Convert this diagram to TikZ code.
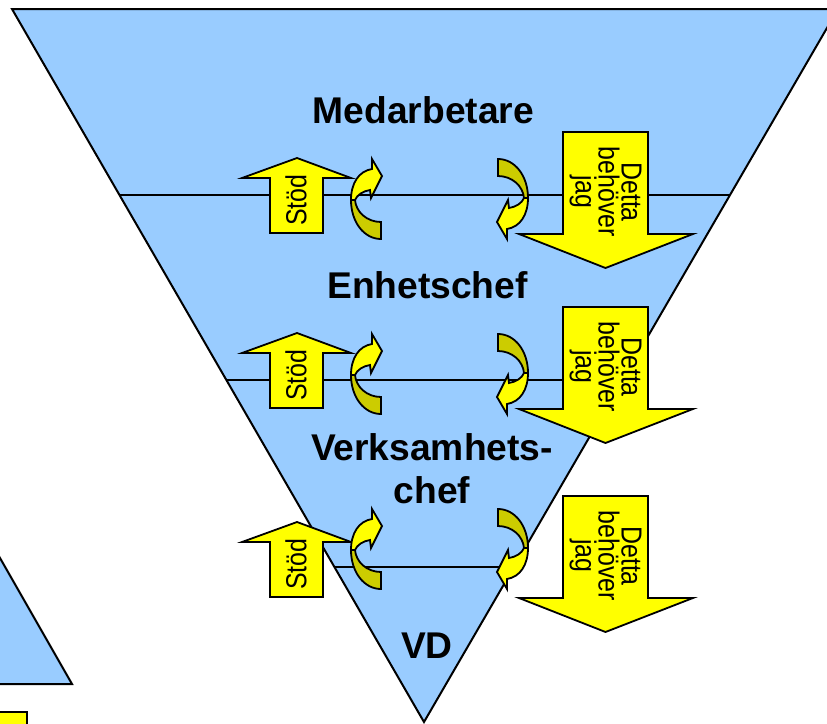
\documentclass[tikz,border=0pt]{standalone}
\usepackage{fontspec}
\setmainfont{Liberation Sans}
\newfontfamily\narrowsans[FakeStretch=0.86]{Liberation Sans}
\usepackage{tikz}
\definecolor{levelblue}{HTML}{99CCFF}
\definecolor{arrowyellow}{HTML}{FFFF00}
\definecolor{backyellow}{HTML}{CCCC00}

\begin{document}
\begin{tikzpicture}
  [
    x=0.5pt, y=-0.5pt,
    level/.style={
       anchor=base,
       inner sep=0pt,
       font=\bfseries\fontsize{18.6}{21.5}\selectfont
    },
    tri/.style={
       fill=levelblue,
       draw=black,
       line width=1pt
    },
    split/.style={
       draw=black,
       line width=0.8pt
    },
    arrowbody/.style={
       fill=arrowyellow,
       draw=black,
       line width=0.9pt
    },
    arrowback/.style={
       arrowbody,
       fill=backyellow
    },
    stod/.pic={
       \draw [arrowbody] (0,0) -- (54,20) -- (26,20) -- (26,75) -- (-27,75)
             -- (-27,20) -- (-55,20) -- cycle;
       \node (-txt) at (-1,42) [rotate=90, inner sep=0pt,
             font=\narrowsans\fontsize{14.5}{14.5}\selectfont] {Stöd};
    },
    detta/.pic={
       \draw [arrowbody] (-42.5,0) -- (42.5,0) -- (42.5,102) -- (87.5,102)
             -- (0,136) -- (-86.5,102) -- (-42.5,102) -- cycle;
       \node (-txt) at (0,60) [rotate=-90, inner sep=0pt, align=center,
             font=\narrowsans\fontsize{14.5}{11.5}\selectfont] {Detta\\behöver\\jag};
    },
    turn/.pic={
       \draw [arrowback] (0,39) .. controls (-17,39) and (-30,22) .. (-30,0)
             -- (-26,0) .. controls (-25,12) and (-14,22) .. (0,22) -- cycle;
       \draw [arrowbody] (-30,0) .. controls (-30,-17) and (-22,-29) .. (-9,-31)
             -- (-9,-41) -- (1,-24) -- (-10,-2) -- (-11,-10)
             .. controls (-18,-9) and (-24,-5) .. (-26,0) -- cycle;
    }
  ]
  \clip (0,0) rectangle (827,724);

  % pyramid
  \draw [tri] (12,9) -- (838,9) -- (424,722) -- cycle;
  \draw [split] (119.5,195) -- (730,195);
  \draw [split] (226.4,380) -- (622.6,380);
  \draw [split] (334.4,567) -- (514,567);

  % part of the next slide
  \draw [tri] (-40,488) -- (72,684) -- (-40,684) -- cycle;
  \draw [arrowbody] (-10,712) rectangle (27,740);

  % row 1
  \pic (stod1) at (297,158) {stod};
  \pic (turnL1) at (381,200) {turn};
  \pic [rotate=180] (turnR1) at (498,198) {turn};
  \pic (detta1) at (605.5,132) {detta};

  % row 2
  \pic (stod2) at (297,333) {stod};
  \pic (turnL2) at (381,375) {turn};
  \pic [rotate=180] (turnR2) at (498,373) {turn};
  \pic (detta2) at (605.5,307) {detta};

  % row 3
  \pic (stod3) at (297,522) {stod};
  \pic (turnL3) at (381,550) {turn};
  \pic [rotate=180] (turnR3) at (498,548) {turn};
  \pic (detta3) at (605.5,496) {detta};

  \node (medarbetare) at (423.5,123) [level] {Medarbetare};
  \node (enhetschef)  at (427.5,298) [level] {Enhetschef};
  \node (verksamhet)  at (432,468.5) [level, anchor=center, align=center] {Verksamhets-\\chef};
  \node (vd)          at (427,658)   [level] {VD};
\end{tikzpicture}
\end{document}
